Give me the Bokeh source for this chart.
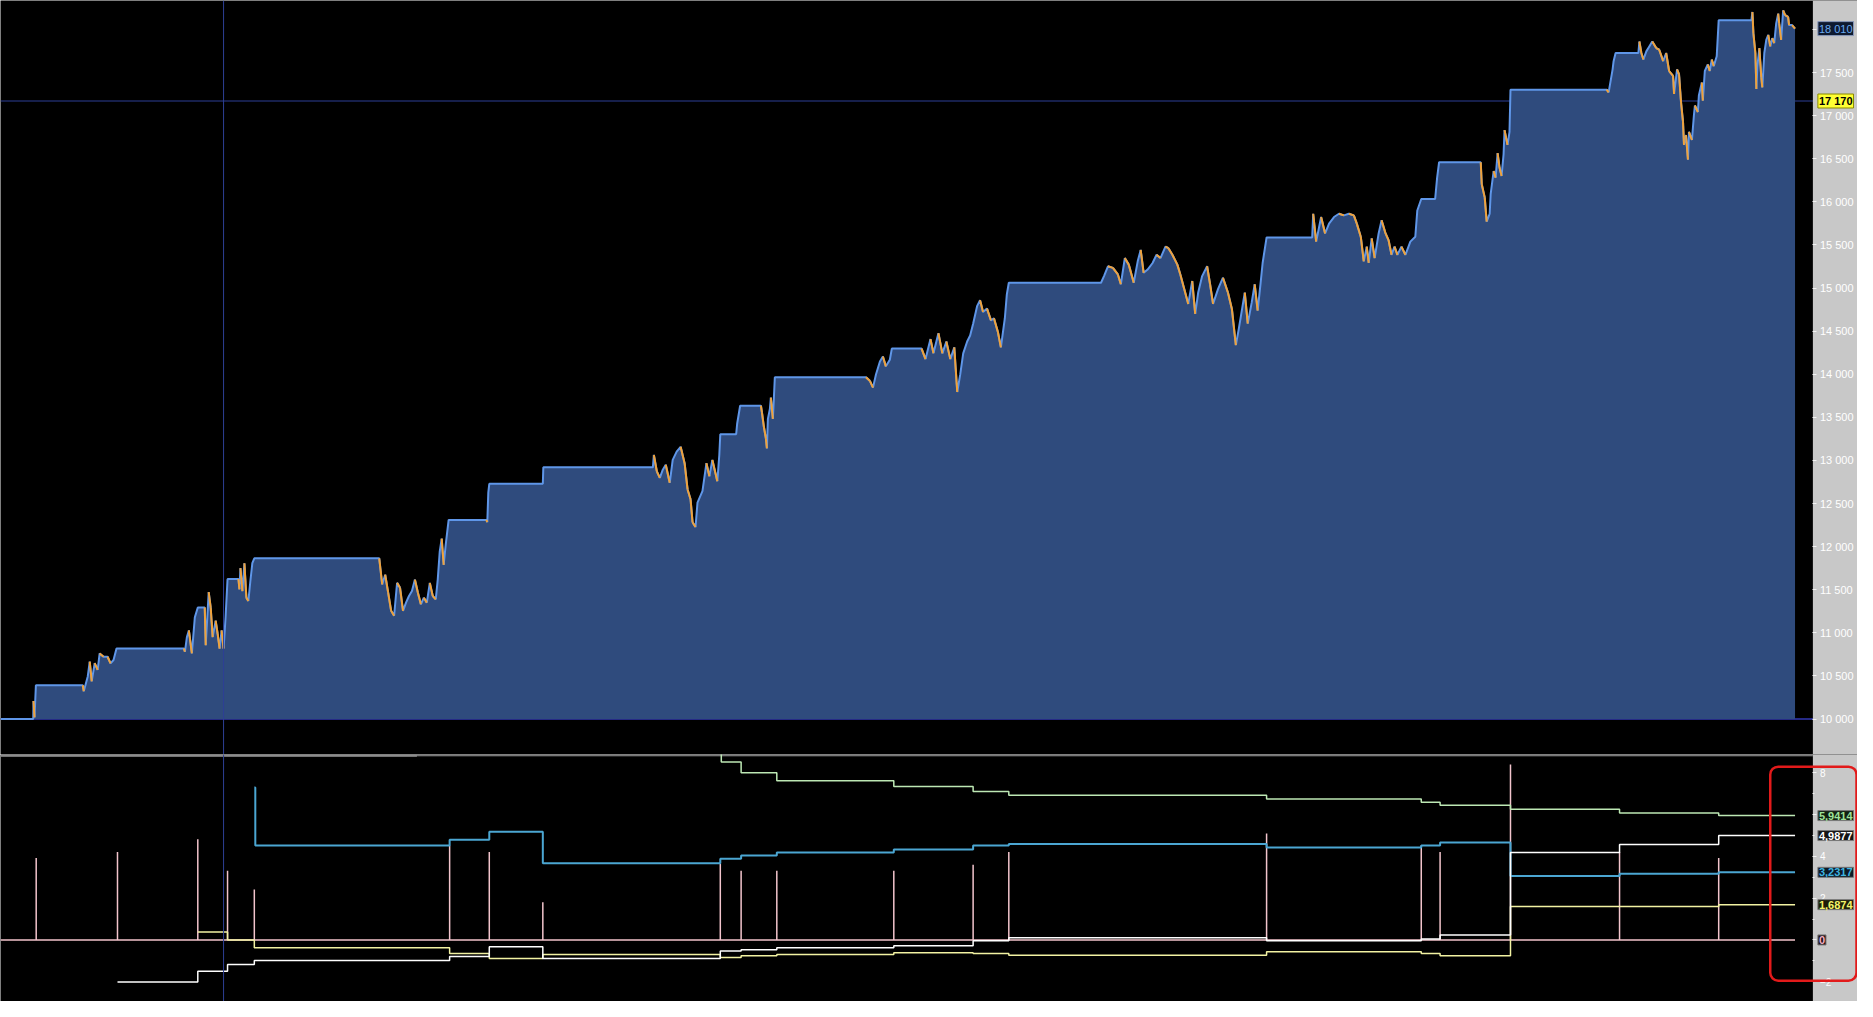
from bokeh.plotting import figure
from bokeh.models import Range1d, Span, Label, BoxAnnotation, FixedTicker, CustomJSTickFormatter
from bokeh.layouts import column
from bokeh.embed import file_html
from bokeh.resources import INLINE

# ---------------- data ----------------
START_CAPITAL = 10000
END_X = 1810

EQ_X = [0, 33, 33.3, 34.3, 35.7, 83, 84, 88, 90, 92, 95, 98, 100, 104, 108, 111, 114, 117,
        185, 186, 188, 190, 193, 196, 199, 206, 207, 210, 212, 214, 217, 219, 221, 223, 225, 227, 229,
        240, 241, 242, 244, 246, 248, 250, 252, 254, 256,
        382, 385, 388, 391, 394, 397, 400, 403, 406, 409, 412, 415, 418, 421, 424, 427, 430, 433, 436,
        439, 441, 443, 445, 447, 449, 452,
        490, 491, 492, 493, 547, 547.5,
        658, 659, 662, 665, 668, 671, 675, 678, 682, 686, 690, 693, 696, 698, 701, 703, 708, 712, 715,
        718, 723, 725, 726, 742, 743, 746,
        767, 768, 770, 772, 773, 774, 776, 777, 779, 780, 781,
        873, 877, 880, 883, 887, 890, 893, 897, 899,
        929, 933, 938, 941, 946, 950, 954, 958, 962, 965, 968, 971, 975, 978, 981, 985, 988, 991, 995,
        999, 1002, 1006, 1009, 1013, 1015, 1017,
        1110, 1113, 1117, 1122, 1127, 1130, 1134, 1138, 1143, 1147, 1150, 1153, 1157, 1162, 1166, 1170,
        1175, 1178, 1182, 1187, 1190, 1194, 1198, 1202, 1205, 1208, 1212, 1217, 1220, 1223, 1228, 1233,
        1238, 1242, 1246, 1249, 1252, 1255, 1258, 1262, 1265, 1268, 1271, 1273, 1277,
        1323, 1324, 1327, 1332, 1336, 1340, 1345, 1350, 1355, 1360, 1365, 1368, 1372, 1375, 1378, 1380,
        1383, 1386, 1390, 1393, 1397, 1400, 1403, 1406, 1409, 1413, 1417, 1422, 1427, 1429, 1433,
        1447, 1449, 1451,
        1493, 1494, 1497, 1499, 1502, 1503, 1506, 1508, 1510, 1512, 1514, 1516, 1517, 1520, 1522, 1523,
        1620, 1622, 1624, 1626, 1627, 1629,
        1652, 1653, 1655, 1657, 1660, 1663, 1666, 1670, 1673, 1677, 1680, 1683, 1687, 1688, 1691, 1693,
        1695, 1697, 1698, 1700, 1702, 1703, 1706, 1708, 1709, 1712, 1713, 1716, 1717, 1719, 1722, 1724,
        1726, 1728, 1731, 1733,
        1766, 1767, 1768, 1770, 1771, 1772, 1774, 1776, 1777, 1779, 1781, 1783, 1785, 1787, 1789, 1791,
        1793, 1794, 1796, 1798, 1800, 1803, 1804, 1807, 1810]

EQ_Y = [10000, 10000, 10209, 10019, 10392, 10392, 10323, 10494, 10666, 10437, 10650, 10571, 10761, 10723,
        10723, 10647, 10685, 10818,
        10818, 10780, 10951, 11028, 10761, 11180, 11294, 11294, 10856, 11473, 11294, 10951, 11142, 10990,
        10818, 11028, 10818, 11180, 11625,
        11625, 11504, 11751, 11485, 11808, 11408, 11370, 11599, 11808, 11865,
        11865, 11561, 11675, 11466, 11256, 11199, 11580, 11523, 11256, 11351, 11428, 11485, 11618, 11466,
        11332, 11408, 11351, 11580, 11428, 11389, 11618, 11941, 12093, 11789, 12018, 12310,
        12310, 12284, 12627, 12729, 12729, 12920,
        12920, 13064, 12874, 12798, 12893, 12950, 12741, 13007, 13102, 13159, 12969, 12664, 12550, 12284,
        12227, 12512, 12645, 12969, 12817, 13007, 12760, 13064, 13304, 13304, 13426, 13635,
        13635, 13559, 13388, 13255, 13140, 13483, 13597, 13730, 13483, 13711, 13966,
        13966, 13921, 13845, 13997, 14149, 14206, 14092, 14168, 14298,
        14298, 14176, 14408, 14243, 14476, 14243, 14380, 14176, 14312, 13794, 13998, 14243, 14380, 14449,
        14585, 14790, 14858, 14722, 14762, 14625, 14650, 14490, 14312, 14650, 14926, 15062,
        15062, 15139, 15253, 15234, 15158, 15044, 15348, 15272, 15062, 15310, 15443, 15177, 15215, 15291,
        15386, 15348, 15481, 15462, 15386, 15272, 15158, 14987, 14816, 15082, 14701, 14948, 15139, 15253,
        15044, 14816, 14987, 15120, 14948, 14758, 14339, 14530, 14739, 14948, 14587, 14834, 15044, 14739,
        15062, 15291, 15588,
        15588, 15862, 15539, 15824, 15634, 15748, 15824, 15862, 15843, 15862, 15843, 15748, 15596, 15310,
        15481, 15291, 15576, 15348, 15634, 15786, 15634, 15557, 15386, 15481, 15386, 15481, 15386, 15539,
        15596, 15900, 16033,
        16033, 16281, 16460,
        16460, 16205, 16052, 15771, 15862, 16090, 16357, 16281, 16566, 16395, 16300, 16547, 16832, 16661,
        16813, 17301,
        17301, 17270, 17403, 17537, 17632, 17727,
        17727, 17860, 17727, 17651, 17746, 17803, 17860, 17784, 17765, 17632, 17727, 17518, 17461, 17252,
        17537, 17480, 17156, 16928, 16661, 16775, 16490, 16813, 16718, 17004, 17118, 17042, 17233, 17385,
        17175, 17518, 17594, 17518, 17651, 17575, 17689, 18108,
        18108, 18203, 17956, 17727, 17309, 17575, 17784, 17442, 17328, 17727, 17880, 17937, 17803, 17899,
        17842, 18070, 18184, 18070, 17880, 18222, 18165, 18146, 18051, 18051, 18010]

CROSS_X = 225
CROSS_Y = 17170
PRICE_TICKS = list(range(10000, 18001, 500))

# lower panel: trade events and indicator series
EVENT_X = [36, 118, 199, 229, 256, 453, 493, 547, 726, 747, 783, 901, 981, 1017, 1277, 1433, 1452,
           1523, 1633, 1733]
PINK_H = [3.92, 4.20, 4.81, 3.31, 2.41, 4.51, 4.20, 1.80, 3.65, 3.31, 3.31, 3.31, 3.59, 4.20, 5.09,
          4.51, 4.20, 8.38, 4.20, 3.92]

CYAN_X = [256, 257, 453, 493, 547, 726, 747, 783, 901, 981, 1017, 1277, 1433, 1452, 1523, 1633, 1733]
CYAN_Y = [7.28, 4.51, 4.79, 5.17, 3.67, 3.88, 4.04, 4.18, 4.32, 4.51, 4.59, 4.42, 4.51, 4.65, 3.06,
          3.16, 3.2317]

WHITE_X = [118, 199, 229, 256, 453, 493, 547, 726, 747, 783, 901, 981, 1017, 1277, 1433, 1452, 1523,
           1633, 1733]
WHITE_Y = [-2.01, -1.50, -1.17, -0.98, -0.79, -0.32, -0.89, -0.53, -0.47, -0.37, -0.28, -0.04, 0.10,
           -0.04, 0.05, 0.24, 4.18, 4.56, 4.9877]

YELLOW_X = [199, 229, 256, 453, 493, 547, 726, 747, 783, 901, 981, 1017, 1277, 1433, 1452, 1523, 1633,
            1733]
YELLOW_Y = [0.38, 0.0, -0.37, -0.65, -0.89, -0.70, -0.84, -0.75, -0.70, -0.61, -0.65, -0.73, -0.56,
            -0.65, -0.75, 1.60, 1.60, 1.6874]

GREEN_X = [726, 727, 747, 783, 901, 981, 1017, 1277, 1433, 1452, 1523, 1633, 1733]
GREEN_Y = [9.0, 8.50, 7.99, 7.61, 7.33, 7.09, 6.91, 6.73, 6.58, 6.44, 6.25, 6.06, 5.9414]

IND_TICKS = [-2, 0, 2, 4, 6, 8]
IND_MINOR = [-1, 1, 3, 5, 7]

# ---------------- style ----------------
W = 1857
H1, H2 = 754, 247
FONT = "Liberation Sans"
AXIS_BG = "#c8c8c8"
AREA = "#2f4b7d"
LINE_BLUE = "#5f96e8"
ORANGE = "#f0a23a"
BASE_C = "#262a86"
CROSS_C = "#2d3f96"
PINK = "#f2c4cc"
CYAN = "#4ba6d2"
WHITE = "#ffffff"
YELLOW = "#f2f2a2"
GREEN = "#bde8b4"

PLOT_END = 1828     # where the price scale strip starts (x units)
X_TOTAL = 1873


def style_axis(ax, size):
    ax.fixed_location = PLOT_END
    ax.axis_line_color = None
    ax.major_tick_line_color = "#f4f4f4"
    ax.major_tick_out = 4
    ax.major_tick_in = 0
    ax.minor_tick_line_color = "#f4f4f4"
    ax.minor_tick_out = 2
    ax.minor_tick_in = 0
    ax.major_label_text_color = "white"
    ax.major_label_text_font = FONT
    ax.major_label_text_font_size = size
    ax.major_label_standoff = 3


def make_fig(height, y_range, x_range):
    f = figure(width=W, height=height, x_range=x_range, y_range=y_range,
               output_backend="svg", toolbar_location=None, x_axis_location=None,
               y_axis_location="right", background_fill_color="black",
               border_fill_color=AXIS_BG, min_border_left=0, min_border_top=0,
               min_border_bottom=0, min_border_right=0)
    f.grid.visible = False
    f.outline_line_color = None
    return f


# ---------------- top: equity ----------------
p1 = make_fig(H1, Range1d(9589, 18336), Range1d(0, X_TOTAL))
ax1 = p1.yaxis[0]
ax1.ticker = FixedTicker(ticks=PRICE_TICKS)
ax1.formatter = CustomJSTickFormatter(
    code="return tick.toFixed(0).replace(/\\B(?=(\\d{3})+(?!\\d))/g, ' ');")
style_axis(ax1, "11px")
ax1.minor_tick_line_color = None

p1.add_layout(Span(location=START_CAPITAL, dimension="width", line_color=BASE_C, line_width=2,
                   level="underlay"))
p1.add_layout(Span(location=CROSS_Y, dimension="width", line_color=CROSS_C, line_width=1,
                   level="underlay"))
p1.add_layout(BoxAnnotation(left=PLOT_END, fill_color=AXIS_BG, fill_alpha=1, line_color=None,
                            level="underlay"))

p1.varea(x=EQ_X, y1=START_CAPITAL, y2=EQ_Y, fill_color=AREA)
p1.line(EQ_X, EQ_Y, line_color=LINE_BLUE, line_width=2)
dn = [i for i in range(1, len(EQ_Y)) if EQ_Y[i] < EQ_Y[i - 1]]
p1.segment(x0=[EQ_X[i - 1] for i in dn], y0=[EQ_Y[i - 1] for i in dn],
           x1=[EQ_X[i] for i in dn], y1=[EQ_Y[i] for i in dn], line_color=ORANGE, line_width=2)

p1.add_layout(Span(location=CROSS_X, dimension="height", line_color=CROSS_C, line_width=1))


def fmt_thousands(v):
    return f"{int(round(v)):,}".replace(",", " ")


p1.add_layout(Label(x=PLOT_END, y=EQ_Y[-1], x_offset=5, text=fmt_thousands(EQ_Y[-1]),
                    text_baseline="middle", text_align="left", text_font=FONT,
                    text_font_size="11px", text_color="#6aaaf2", background_fill_color="#0e1a30",
                    border_line_color="#8899bb", padding=1))
p1.add_layout(Label(x=PLOT_END, y=CROSS_Y, x_offset=5, text=fmt_thousands(CROSS_Y),
                    text_baseline="middle", text_align="left", text_font=FONT,
                    text_font_size="11px", text_font_style="bold", text_color="black",
                    background_fill_color="#ffff33", border_line_color="#8a8a00", padding=1))

# ---------------- bottom: indicators ----------------
p2 = make_fig(H2, Range1d(-2.94, 8.86), p1.x_range)
ax2 = p2.yaxis[0]
ax2.ticker = FixedTicker(ticks=IND_TICKS, minor_ticks=IND_MINOR)
style_axis(ax2, "10px")

p2.add_layout(BoxAnnotation(left=PLOT_END, fill_color=AXIS_BG, fill_alpha=1, line_color=None,
                            level="underlay"))

# separator between panes
p2.segment(x0=[0], y0=[8.80], x1=[PLOT_END], y1=[8.80], line_color="#a0a0a0", line_width=1)
p2.segment(x0=[0], y0=[8.80], x1=[420], y1=[8.80], line_color="#8c8c8c", line_width=2)

# pink impulses on zero line
pink_x, pink_y = [0], [0]
for ex, eh in zip(EVENT_X, PINK_H):
    pink_x += [ex, ex, ex]
    pink_y += [0, eh, 0]
pink_x.append(END_X)
pink_y.append(0)
p2.line(pink_x, pink_y, line_color=PINK, line_width=1.5)

for xs, ys, col, lw in [(YELLOW_X, YELLOW_Y, YELLOW, 1.5), (GREEN_X, GREEN_Y, GREEN, 1.5),
                        (CYAN_X, CYAN_Y, CYAN, 2), (WHITE_X, WHITE_Y, WHITE, 1.5)]:
    p2.step(xs + [END_X], ys + [ys[-1]], mode="after", line_color=col, line_width=lw)

p2.add_layout(Span(location=CROSS_X, dimension="height", line_color=CROSS_C, line_width=1))


def fmt_dec(v):
    return "0" if v == 0 else f"{v:.4f}".replace(".", ",")


for val, col, bg in [(GREEN_Y[-1], "#9fe39a", "#122012"), (WHITE_Y[-1], "#ffffff", "#151515"),
                     (CYAN_Y[-1], "#3fb4e0", "#0c1a26"), (YELLOW_Y[-1], "#f4f46a", "#1e1e08"),
                     (0, "#f2b0c4", "#1e1016")]:
    p2.add_layout(Label(x=PLOT_END, y=val, x_offset=5, text=fmt_dec(val), text_baseline="middle",
                        text_align="left", text_font=FONT, text_font_size="11px",
                        text_font_style="bold", text_color=col, background_fill_color=bg,
                        border_line_color="#7a7a7a", padding=1))

p2.add_layout(BoxAnnotation(left=1785, right=1872, top=8.28, bottom=-1.95, fill_color=None,
                            fill_alpha=0, line_color="#e21a1a", line_alpha=1, line_width=2.5,
                            border_radius=8))

layout = column(p1, p2, spacing=0)
open("out.html", "w").write(file_html(layout, INLINE))
